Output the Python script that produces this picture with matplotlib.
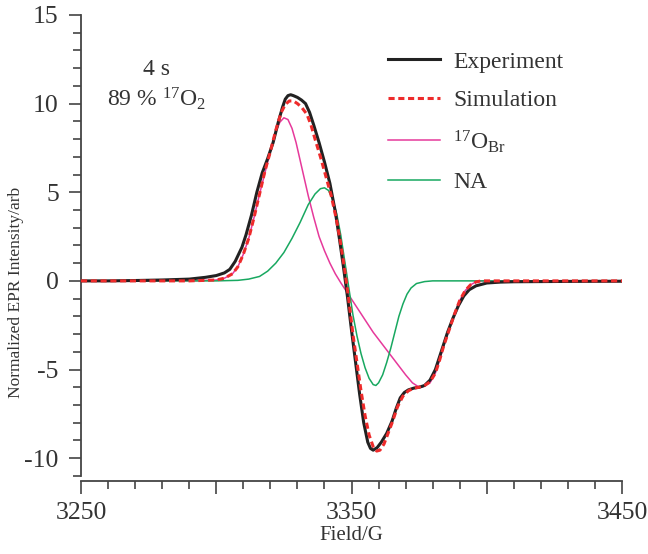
import numpy as np
import matplotlib
matplotlib.use('Agg')
import matplotlib.pyplot as plt
from matplotlib.ticker import MultipleLocator, FixedLocator, FixedFormatter

plt.rcParams['font.family'] = ['Liberation Serif', 'DejaVu Serif']
plt.rcParams['mathtext.fontset'] = 'custom'
plt.rcParams['mathtext.rm'] = 'Liberation Serif'
plt.rcParams['mathtext.it'] = 'Liberation Serif:italic'
plt.rcParams['axes.unicode_minus'] = False

# -- data (Field in G, intensity in arb. units)
exp_field = [3250, 3260, 3270, 3280, 3290, 3296, 3300, 3303, 3305, 3307,
             3309.5, 3311, 3313, 3315, 3317, 3319, 3321, 3323, 3324.5, 3325.5,
             3326.5, 3327.5, 3328.5, 3330, 3331.5, 3333, 3334.5, 3336, 3338, 3340,
             3342, 3344, 3345.5, 3347, 3348.5, 3350, 3351.5, 3353, 3354.5, 3356,
             3357, 3358, 3359.5, 3361, 3363, 3365, 3366.5, 3368, 3369.5, 3371,
             3373, 3375, 3377, 3379, 3381, 3382.5, 3384, 3385.5, 3387.5, 3389.5,
             3391.5, 3393.5, 3396, 3400, 3405, 3410, 3430, 3450]
exp_val = [0.0, 0.0, 0.02, 0.05, 0.1, 0.2, 0.3, 0.45, 0.65, 1.1,
           1.9, 2.6, 3.7, 5.0, 6.1, 6.9, 7.8, 9.0, 9.8, 10.25,
           10.45, 10.5, 10.45, 10.35, 10.2, 10.0, 9.5, 8.8, 7.8, 6.7,
           5.5, 3.9, 2.4, 0.8, -0.9, -2.8, -4.6, -6.4, -8.0, -9.1,
           -9.45, -9.55, -9.4, -9.1, -8.6, -7.9, -7.2, -6.6, -6.3, -6.15,
           -6.05, -6.0, -5.9, -5.6, -5.0, -4.3, -3.6, -2.9, -2.1, -1.4,
           -0.85, -0.5, -0.28, -0.12, -0.07, -0.05, -0.03, -0.02]

sim_field = [3250, 3290, 3300, 3303, 3306, 3308, 3310, 3312, 3314, 3316,
             3318, 3320, 3322, 3324, 3325.5, 3327, 3328.5, 3330, 3331.5, 3333.5,
             3335, 3336.5, 3338.5, 3340.5, 3342.5, 3344.5, 3346, 3347.5, 3349, 3350.5,
             3352, 3353.5, 3355, 3356.5, 3358, 3359.3, 3360.5, 3362, 3363.5, 3365,
             3367, 3369, 3371, 3373, 3375, 3377, 3379, 3381, 3382.5, 3384,
             3386, 3388, 3390, 3392, 3394, 3396, 3398, 3450]
sim_val = [0.0, 0.0, 0.05, 0.15, 0.4, 0.8, 1.5, 2.4, 3.6, 4.9,
           6.2, 7.3, 8.5, 9.5, 9.95, 10.15, 10.15, 10.0, 9.8, 9.4,
           8.8, 8.0, 7.0, 5.9, 4.8, 3.4, 2.1, 0.6, -1.1, -3.0,
           -4.6, -6.2, -7.6, -8.7, -9.35, -9.6, -9.55, -9.2, -8.6, -8.0,
           -7.1, -6.5, -6.2, -6.05, -6.0, -5.9, -5.7, -5.2, -4.5, -3.7,
           -2.8, -1.9, -1.1, -0.55, -0.22, -0.06, 0.0, 0.0]

obr_field = [3250, 3290, 3300, 3303, 3306, 3308, 3310, 3312, 3314, 3316,
             3318, 3320, 3322, 3323.5, 3325, 3326.5, 3328, 3329.5, 3331, 3332.5,
             3334, 3336, 3338, 3340, 3342, 3344, 3346, 3349, 3352, 3355,
             3358, 3361, 3364, 3367, 3370, 3372.5, 3374.5, 3376, 3379, 3381,
             3382.5, 3384, 3386, 3388, 3390, 3392, 3394, 3396, 3398, 3450]
obr_val = [0.0, 0.0, 0.05, 0.15, 0.4, 0.8, 1.5, 2.4, 3.6, 4.9,
           6.1, 7.3, 8.4, 8.95, 9.2, 9.1, 8.6, 7.8, 6.8, 5.8,
           4.8, 3.6, 2.5, 1.7, 1.0, 0.4, -0.1, -0.8, -1.5, -2.2,
           -2.9, -3.5, -4.1, -4.7, -5.3, -5.75, -5.95, -6.0, -5.75, -5.2,
           -4.5, -3.7, -2.8, -1.9, -1.1, -0.55, -0.22, -0.06, 0.0, 0.0]

na_field = [3250, 3300, 3308, 3312, 3316, 3319, 3322, 3325, 3328, 3331,
            3334, 3336.5, 3338.5, 3340, 3341.5, 3343, 3344.5, 3346, 3347.5, 3349,
            3350.5, 3352, 3353.5, 3355, 3356.5, 3358, 3359, 3360, 3361.5, 3363,
            3364.5, 3366, 3367.5, 3369, 3370.5, 3372, 3374, 3377, 3380, 3450]
na_val = [0.0, 0.0, 0.03, 0.1, 0.25, 0.55, 1.0, 1.6, 2.4, 3.3,
          4.3, 4.9, 5.2, 5.25, 5.1, 4.6, 3.8, 2.6, 1.1, -0.4,
          -1.9, -3.1, -4.1, -4.9, -5.5, -5.85, -5.9, -5.75, -5.3, -4.6,
          -3.8, -2.9, -2.0, -1.3, -0.75, -0.4, -0.15, -0.04, 0.0, 0.0]

fig = plt.figure(figsize=(6.48, 5.54), dpi=100)
ax = fig.add_axes([0.125, 0.141, 0.835, 0.832])

ax.plot(exp_field, exp_val, color='#222222', lw=2.2, label='Experiment', zorder=4)
ax.plot(sim_field, sim_val, color='#ee2b2b', lw=2.2, ls=(0, (2, 1.2)),
        label='Simulation', zorder=5)
ax.plot(obr_field, obr_val, color='#e6399b', lw=1.1, label='$^{17}$O$_{\\mathrm{Br}}$', zorder=3)
ax.plot(na_field, na_val, color='#18a860', lw=1.1, label='NA', zorder=3)

ax.set_xlim(3250, 3450)
ax.set_ylim(-11, 15)

for s in ['top', 'right']:
    ax.spines[s].set_visible(False)
for s in ['left', 'bottom']:
    ax.spines[s].set_color('#444444')
    ax.spines[s].set_linewidth(1.3)
ax.spines['bottom'].set_position(('outward', 4))

ax.xaxis.set_major_locator(FixedLocator([3250, 3300, 3350, 3400, 3450]))
ax.xaxis.set_major_formatter(FixedFormatter(['3250', '', '3350', '', '3450']))
ax.xaxis.set_minor_locator(MultipleLocator(10))
ax.yaxis.set_major_locator(FixedLocator([-10, -5, 0, 5, 10, 15]))
ax.yaxis.set_minor_locator(MultipleLocator(1))

ax.tick_params(which='both', direction='out', color='#444444', width=1.2,
               labelsize=18.5, labelcolor='#333333')
ax.tick_params(which='major', length=9, pad=7)
ax.tick_params(which='minor', length=6)
ax.tick_params(axis='x', which='major', pad=6)

ax.set_xlabel('Field/G', fontsize=15, color='#333333', labelpad=1)
ax.set_ylabel('Normalized EPR Intensity/arb', fontsize=12.5, color='#333333')
ax.yaxis.set_label_coords(-0.105, 0.397)

ax.text(3278, 11.9, '4 s', fontsize=17, ha='center', va='center', color='#333333')
ax.text(3278, 10.3, '89 % $^{17}$O$_2$', fontsize=17, ha='center', va='center', color='#333333')

leg = ax.legend(loc='upper left', bbox_to_anchor=(388 / 648, 1 - 51 / 554),
                bbox_transform=fig.transFigure, frameon=False, fontsize=17,
                handlelength=2.2, handletextpad=0.55, labelspacing=0.72,
                borderpad=0, borderaxespad=0)
for t in leg.get_texts():
    t.set_color('#333333')

fig.savefig('out.png', dpi=100)
